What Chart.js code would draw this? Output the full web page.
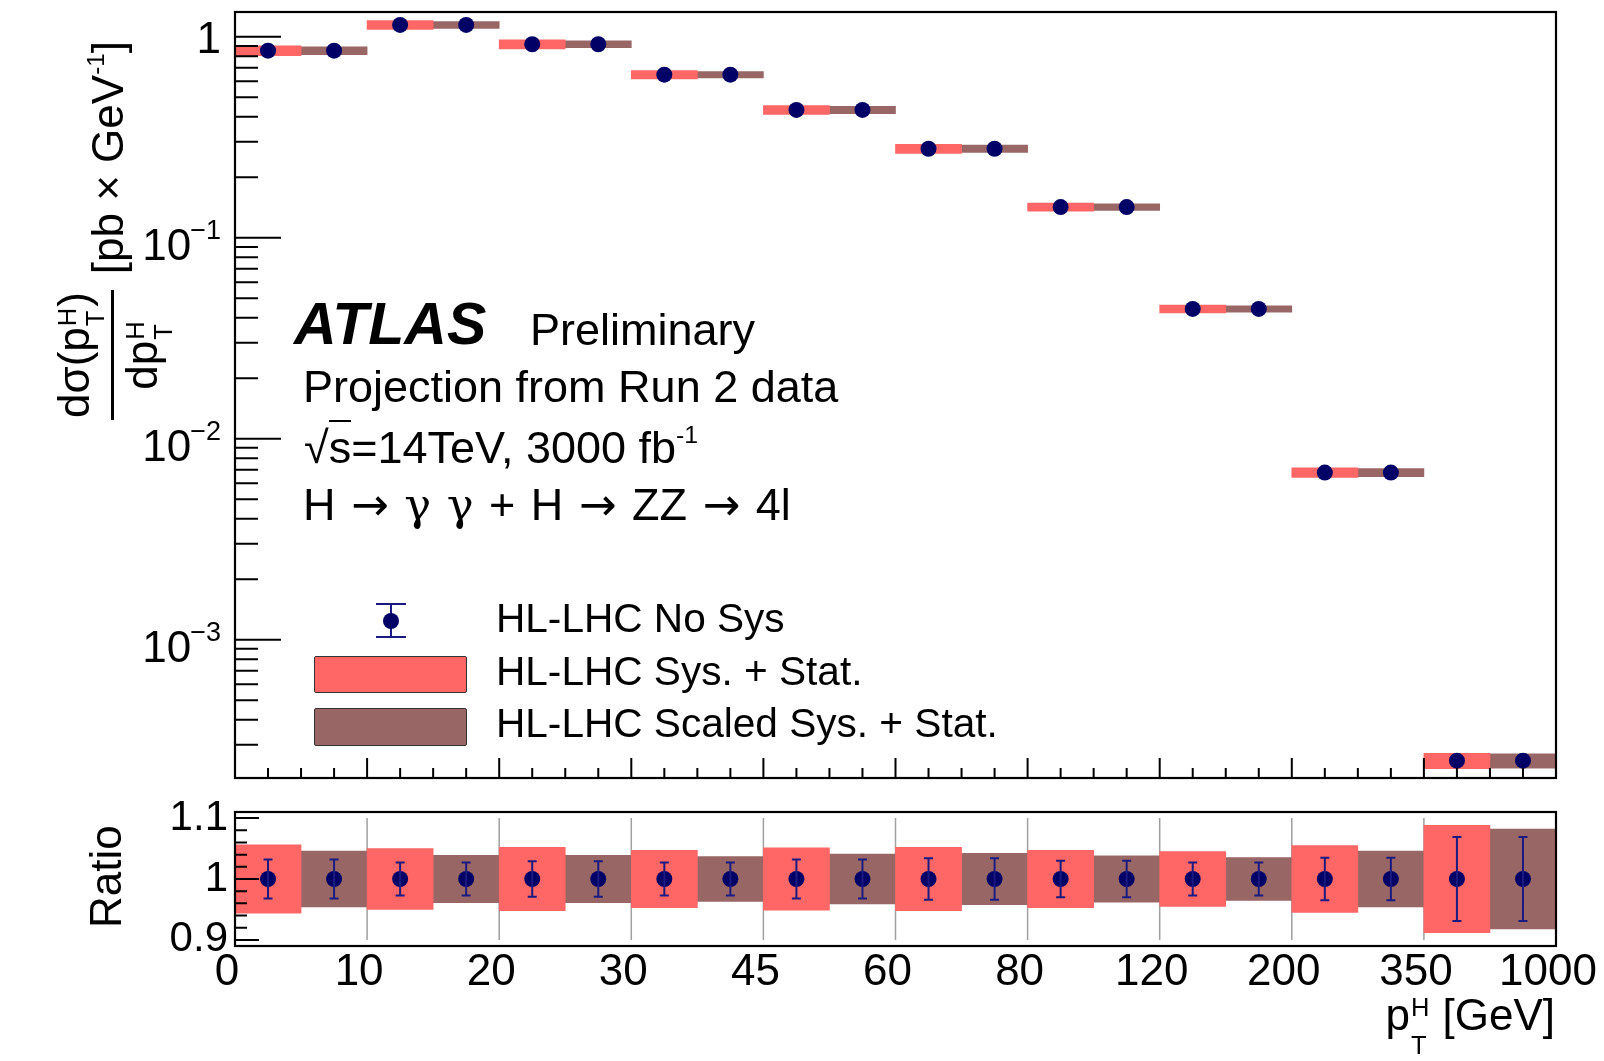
<!DOCTYPE html>
<html>
<head>
<meta charset="utf-8">
<title>Higgs pT differential cross section, HL-LHC projection</title>
<script src="https://cdn.jsdelivr.net/npm/chart.js@4.4.1/dist/chart.umd.min.js"></script>
<style>
  html, body { margin: 0; padding: 0; background: #fff; }
  #wrap { position: relative; width: 1604px; height: 1061px; overflow: hidden;
          font-family: "Liberation Sans", Arial, Helvetica, sans-serif; color: #000; }
  canvas { position: absolute; left: 0; }
  #mainChart { top: 0; }
  #ratioChart { top: 790px; }
  .txt { position: absolute; white-space: nowrap; line-height: 1; font-size: 44px; }
  .big { font-size: 45px; }
  .sup { position: relative; font-size: 0.55em; top: -0.8em; }
  .ss { display: inline-block; position: relative; width: 0.8em; height: 0; font-size: 0.58em; }
  .ss span { position: absolute; left: 0.04em; line-height: 1; }
  .ss .hi { bottom: 0.35em; }
  .ss .lo { top: 0.13em; }
  .ovl { border-top: 2px solid #000; }
  .greek { font-family: "DejaVu Serif", "Liberation Serif", serif; }
  .arr { font-family: "DejaVu Sans", sans-serif; }
  .rot { position: absolute; transform-origin: 0 0; transform: rotate(-90deg); white-space: nowrap; }
  #ytitle { display: flex; align-items: center; font-size: 44px; line-height: 1; }
  #ytitle .frac { display: inline-flex; flex-direction: column; align-items: center; margin-right: 16px; }
  #ytitle .num { border-bottom: 3px solid #000; padding: 0 2px 15px; }
  #ytitle .den { padding-top: 6px; }
  #ytitle .ss .lo { top: -0.25em; }
  .box { position: absolute; border: 1.5px solid #333; border-radius: 2px; box-sizing: border-box; }
  .mk { position: absolute; background: #1a1a80; }
</style>
</head>
<body>
<div id="wrap">
  <canvas id="mainChart" width="1604" height="790"></canvas>
  <canvas id="ratioChart" width="1604" height="271"></canvas>

  <div class="txt" style="left:294px;top:295.1px;font-size:59px;font-weight:bold;font-style:italic">ATLAS</div>
  <div class="txt big" style="left:530px;top:306.9px">Preliminary</div>
  <div class="txt big" style="left:303px;top:363.6px">Projection from Run 2 data</div>
  <div class="txt big" style="left:304px;top:424.9px">√<span class="ovl">s</span>=14TeV, 3000 fb<span class="sup">-1</span></div>
  <div class="txt big" style="left:303px;top:481.9px;word-spacing:3px">H <span class="arr">→</span> <span class="greek">γ</span> <span class="greek">γ</span> + H <span class="arr">→</span> ZZ <span class="arr">→</span> 4l</div>

  <div class="mk" style="left:390px;top:604px;width:2px;height:33px"></div>
  <div class="mk" style="left:376px;top:603px;width:30px;height:2px"></div>
  <div class="mk" style="left:376px;top:636px;width:30px;height:2px"></div>
  <div class="mk" style="left:383px;top:613px;width:16px;height:16px;border-radius:50%;background:#000066"></div>
  <div class="box" style="left:314px;top:656px;width:153px;height:37px;background:rgb(255,102,102)"></div>
  <div class="box" style="left:314px;top:708px;width:153px;height:38px;background:rgb(153,102,102)"></div>
  <div class="txt" style="left:496px;top:597.7px;font-size:40.6px">HL-LHC No Sys</div>
  <div class="txt" style="left:496px;top:650.7px;font-size:40.6px">HL-LHC Sys. + Stat.</div>
  <div class="txt" style="left:496px;top:702.7px;font-size:40.6px">HL-LHC Scaled Sys. + Stat.</div>

  <div id="ytitle" class="rot" style="left:40px;top:420px">
    <span class="frac">
      <span class="num">dσ(p<span class="ss"><span class="hi">H</span><span class="lo">T</span></span>)</span>
      <span class="den">dp<span class="ss"><span class="hi">H</span><span class="lo">T</span></span></span>
    </span>
    <span class="unit">[pb × GeV<span class="sup">-1</span>]</span>
  </div>
  <div class="txt rot" style="left:84px;top:928px">Ratio</div>
  <div class="txt" style="right:49px;top:992.8px">p<span class="ss"><span class="hi">H</span><span class="lo">T</span></span> [GeV]</div>
</div>

<script>
// bins of pT(H) in GeV, drawn with equal width
const binEdges = ['0', '10', '20', '30', '45', '60', '80', '120', '200', '350', '1000'];
// dsigma/dpT in pb/GeV
const crossSection = [0.852, 1.144, 0.917, 0.647, 0.432, 0.277, 0.142, 0.0442, 0.00678, 0.000250];
// relative uncertainties
const sysStatErr = [0.056, 0.050, 0.052, 0.047, 0.051, 0.052, 0.047, 0.045, 0.055, 0.088];
const scaledSysStatErr = [0.046, 0.039, 0.039, 0.037, 0.041, 0.042, 0.038, 0.035, 0.046, 0.082];
const statOnlyErr = [0.032, 0.027, 0.029, 0.027, 0.032, 0.034, 0.030, 0.027, 0.035, 0.069];

const logDecades = [0, -1, -2, -3];
const ratioTickValues = [0.9, 1.0, 1.1];
const ratioTickLabels = ['0.9', '1', '1.1'];

const RED = 'rgb(255,102,102)';
const BROWN = 'rgb(153,102,102)';
const NAVY = '#000066';
const nBins = crossSection.length;
const yMin = 2.05e-4, yMax = 1.327;

Chart.defaults.font.family = '"Liberation Sans", Arial, Helvetica, sans-serif';
Chart.defaults.color = '#000';

const leftHalf = (i) => i + 0.25;
const rightHalf = (i) => i + 0.75;

function band(values, errs, pos) {
  return values.map((v, i) => ({ x: pos(i), y: [v * (1 - errs[i]), v * (1 + errs[i])] }));
}
function halfBinPoints(values) {
  const out = [];
  values.forEach((v, i) => {
    out.push({ x: leftHalf(i), y: v });
    out.push({ x: rightHalf(i), y: v });
  });
  return out;
}
const ones = crossSection.map(() => 1);
const pointErr = statOnlyErr.flatMap((e) => [e, e]);

// ROOT-style inward ticks
const xTickMarks = [];
for (let i = 0; i <= nBins; i++) {
  xTickMarks.push([i, 20]);
  if (i < nBins) [0.25, 0.5, 0.75].forEach((f) => xTickMarks.push([i + f, 10]));
}
const mainYTickMarks = [];
for (let k = -4; k <= 0; k++) {
  for (let m = 1; m <= 9; m++) {
    const v = m * Math.pow(10, k);
    if (v >= yMin && v <= yMax) mainYTickMarks.push([v, m === 1 ? 46 : 23]);
  }
}
const ratioYTickMarks = [];
for (let j = 0; j <= 10; j++) ratioYTickMarks.push([0.9 + 0.02 * j, j % 5 === 0 ? 24 : 12]);

function rootFrame(xTicks, yTicks, guides) {
  return {
    id: 'rootFrame',
    beforeDatasetsDraw(chart) {
      if (!guides) return;
      const { ctx, scales: { x, y } } = chart;
      ctx.save();
      ctx.strokeStyle = '#a0a0a0';
      ctx.lineWidth = 1.5;
      ctx.beginPath();
      guides.values.forEach((v) => {
        const px = x.getPixelForValue(v);
        ctx.moveTo(px, y.getPixelForValue(guides.to));
        ctx.lineTo(px, y.getPixelForValue(guides.from));
      });
      ctx.stroke();
      ctx.restore();
    },
    afterDraw(chart) {
      const { ctx, chartArea: a, scales: { x, y } } = chart;
      ctx.save();
      ctx.strokeStyle = '#000';
      ctx.lineWidth = 2;
      ctx.beginPath();
      xTicks.forEach(([v, len]) => {
        const px = x.getPixelForValue(v);
        ctx.moveTo(px, a.bottom);
        ctx.lineTo(px, a.bottom - len);
      });
      yTicks.forEach(([v, len]) => {
        const py = y.getPixelForValue(v);
        ctx.moveTo(a.left, py);
        ctx.lineTo(a.left + len, py);
      });
      ctx.stroke();
      ctx.lineWidth = 2.2;
      ctx.strokeRect(a.left, a.top, a.right - a.left, a.bottom - a.top);
      ctx.restore();
    }
  };
}

const logLabels = {
  id: 'logLabels',
  afterDraw(chart) {
    const { ctx, scales: { y } } = chart;
    const right = 221;
    ctx.save();
    ctx.fillStyle = '#000';
    ctx.textAlign = 'right';
    ctx.textBaseline = 'alphabetic';
    logDecades.forEach((k) => {
      const py = y.getPixelForValue(Math.pow(10, k));
      if (k === 0) {
        ctx.font = '44px "Liberation Sans"';
        ctx.fillText('1', right, py + 16);
        return;
      }
      const sup = '\u2212' + Math.abs(k);
      ctx.font = '27px "Liberation Sans"';
      const w = ctx.measureText(sup).width;
      ctx.fillText(sup, right, py + 1.5);
      ctx.font = '44px "Liberation Sans"';
      ctx.fillText('10', right - w + 1, py + 22);
    });
    ctx.restore();
  }
};

const errorBars = {
  id: 'errorBars',
  afterDatasetDraw(chart, args) {
    const ds = chart.data.datasets[args.index];
    if (!ds.errorBars) return;
    const { ctx, scales: { y } } = chart;
    ctx.save();
    ctx.strokeStyle = '#1a1a80';
    ctx.lineWidth = 2;
    ctx.beginPath();
    args.meta.data.forEach((el, i) => {
      const v = ds.data[i].y, e = ds.errorBars[i];
      const top = y.getPixelForValue(v * (1 + e));
      const bot = y.getPixelForValue(v * (1 - e));
      ctx.moveTo(el.x, top); ctx.lineTo(el.x, bot);
      ctx.moveTo(el.x - 4.5, top); ctx.lineTo(el.x + 4.5, top);
      ctx.moveTo(el.x - 4.5, bot); ctx.lineTo(el.x + 4.5, bot);
    });
    ctx.stroke();
    ctx.restore();
  }
};

const barStyle = { grouped: false, barPercentage: 1, categoryPercentage: 1, borderWidth: 0, order: 1 };
const pointStyle = { type: 'scatter', pointRadius: 8, pointHoverRadius: 8, pointBackgroundColor: NAVY,
                     pointBorderWidth: 0, order: 0 };

new Chart(document.getElementById('mainChart'), {
  type: 'bar',
  data: {
    datasets: [
      { ...pointStyle, label: 'HL-LHC No Sys', data: halfBinPoints(crossSection) },
      { ...barStyle, label: 'HL-LHC Sys. + Stat.', data: band(crossSection, sysStatErr, leftHalf), backgroundColor: RED },
      { ...barStyle, label: 'HL-LHC Scaled Sys. + Stat.', data: band(crossSection, scaledSysStatErr, rightHalf), backgroundColor: BROWN }
    ]
  },
  options: {
    responsive: false,
    animation: false,
    events: [],
    layout: { padding: { left: 235, top: 12, right: 48, bottom: 12 } },
    scales: {
      x: { type: 'linear', min: 0, max: nBins, offset: false, display: false },
      y: { type: 'logarithmic', min: yMin, max: yMax, display: false }
    },
    plugins: { legend: { display: false }, tooltip: { enabled: false } }
  },
  plugins: [rootFrame(xTickMarks, mainYTickMarks, null), logLabels]
});

new Chart(document.getElementById('ratioChart'), {
  type: 'bar',
  data: {
    datasets: [
      { ...pointStyle, label: 'HL-LHC No Sys', data: halfBinPoints(ones), errorBars: pointErr },
      { ...barStyle, label: 'HL-LHC Sys. + Stat.', data: band(ones, sysStatErr, leftHalf), backgroundColor: RED },
      { ...barStyle, label: 'HL-LHC Scaled Sys. + Stat.', data: band(ones, scaledSysStatErr, rightHalf), backgroundColor: BROWN }
    ]
  },
  options: {
    responsive: false,
    animation: false,
    events: [],
    layout: { padding: { left: 0, top: 22, right: 48, bottom: 0 } },
    scales: {
      x: {
        type: 'linear', min: 0, max: nBins, offset: false,
        grid: { display: false, drawTicks: false },
        border: { display: false },
        afterBuildTicks: (s) => { s.ticks = binEdges.map((_, i) => ({ value: i })); },
        afterFit: (s) => { s.height = 115; s.paddingLeft = 0; s.paddingRight = 0; },
        ticks: {
          callback: (v, i) => binEdges[i],
          font: { size: 44 }, color: '#000', padding: 0, labelOffset: -8,
          autoSkip: false, maxRotation: 0, minRotation: 0
        }
      },
      y: {
        min: 0.89, max: 1.11,
        grid: { display: false, drawTicks: false },
        border: { display: false },
        afterBuildTicks: (s) => { s.ticks = ratioTickValues.map((v) => ({ value: v })); },
        afterFit: (s) => { s.width = 235; s.paddingTop = 0; s.paddingBottom = 0; },
        ticks: { callback: (v, i) => ratioTickLabels[i], font: { size: 42 }, color: '#000', padding: 7 }
      }
    },
    plugins: { legend: { display: false }, tooltip: { enabled: false } }
  },
  plugins: [
    rootFrame([], ratioYTickMarks, { values: [1, 2, 3, 4, 5, 6, 7, 8, 9], from: 0.9, to: 1.1 }),
    errorBars
  ]
});

// put the fraction bar of the y title where the reference has it
(function placeYTitle() {
  const el = document.getElementById('ytitle');
  const num = el.querySelector('.num').getBoundingClientRect();
  const frac = el.querySelector('.frac').getBoundingClientRect();
  const dx = 112 - (num.right - 1.5);
  const dy = 420 - frac.bottom;
  el.style.left = (parseFloat(el.style.left) + dx) + 'px';
  el.style.top = (parseFloat(el.style.top) + dy) + 'px';
})();
</script>
</body>
</html>
